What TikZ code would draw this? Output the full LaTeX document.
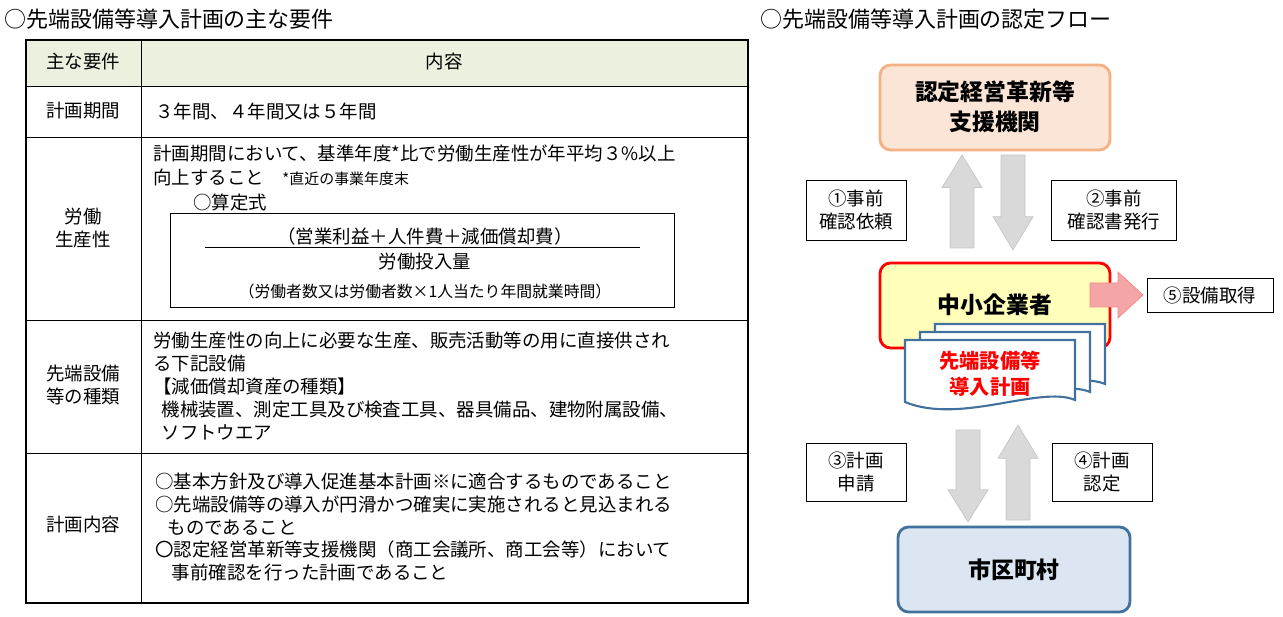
\documentclass[tikz,border=0pt]{standalone}
\usepackage{fontspec}
\setmainfont{Noto Sans CJK JP}
\usetikzlibrary{positioning}
\definecolor{hdgreen}{HTML}{EBF1DE}
\definecolor{orfill}{HTML}{FBE5D6}
\definecolor{ordraw}{HTML}{F4B183}
\definecolor{yefill}{HTML}{FFFFB9}
\definecolor{bufill}{HTML}{DCE6F2}
\definecolor{budraw}{HTML}{41719C}
\definecolor{pkfill}{HTML}{F4A6A6}
\tikzset{
  cell/.style={anchor=west, font=\fontsize{10.5pt}{13pt}\selectfont, align=left, inner sep=0pt},
  ccell/.style={font=\fontsize{10.5pt}{13pt}\selectfont, align=center, inner sep=0pt},
  flowbox/.style={rounded corners=6pt, line width=1.6pt, font=\bfseries\fontsize{13pt}{17pt}\selectfont, align=center},
  labelbox/.style={draw, font=\fontsize{10.5pt}{13pt}\selectfont, align=center, inner sep=0pt},
  grayarrow/.style={fill=gray!30, draw=gray!45},
}
\begin{document}
\begin{tikzpicture}[x=0.02cm, y=-0.02cm]
    \useasboundingbox (0,0) rectangle (1283,617);
    % titles
    \node[cell, font=\fontsize{12.5pt}{15pt}\selectfont] (t1) at (4,19) {○先端設備等導入計画の主な要件};
    \node[cell, font=\fontsize{12.5pt}{15pt}\selectfont] (t2) at (760,19) {○先端設備等導入計画の認定フロー};

    % table
    \fill[hdgreen] (26,40) rectangle (748,86);
    \draw[line width=1.2pt] (26,40) rectangle (748,603);
    \draw (141,40) -- (141,603);
    \foreach \yy in {86,137,320,453} \draw (26,\yy) -- (748,\yy);
    \node[ccell] (h1) at (83,62) {主な要件};
    \node[ccell] (h2) at (444,62) {内容};
    \node[ccell] (r1) at (83,111) {計画期間};
    \node[cell] (c1) at (155,111) {３年間、４年間又は５年間};
    \node[ccell] (r2) at (83,228) {労働\\生産性};
    \node[cell] (c2a) at (153,153) {計画期間において、基準年度*比で労働生産性が年平均３\%以上};
    \node[cell] (c2b) at (153,177) {向上すること\quad {\fontsize{8.5pt}{10pt}\selectfont *直近の事業年度末}};
    \node[cell] (c2c) at (193,202) {○算定式};
    \draw (170,213) rectangle (674,307);
    \node[ccell] (f1) at (425,236) {（営業利益＋人件費＋減価償却費）};
    \draw (205,247) -- (640,247);
    \node[ccell] (f2) at (425,262) {労働投入量};
    \node[ccell, font=\fontsize{9pt}{11pt}\selectfont] (f3) at (425,291) {（労働者数又は労働者数×1人当たり年間就業時間）};
    \node[ccell] (r3) at (83,385) {先端設備\\等の種類};
    \node[cell] (c3) at (153,386) {労働生産性の向上に必要な生産、販売活動等の用に直接供され\\る下記設備\\【減価償却資産の種類】\\\ \ 機械装置、測定工具及び検査工具、器具備品、建物附属設備、\\\ \ ソフトウエア};
    \node[ccell] (r4) at (83,525) {計画内容};
    \node[cell] (c4) at (155,527) {○基本方針及び導入促進基本計画※に適合するものであること\\○先端設備等の導入が円滑かつ確実に実施されると見込まれる\\\ \ \ ものであること\\〇認定経営革新等支援機関（商工会議所、商工会等）において\\\ \ \ \ 事前確認を行った計画であること};

    % flow boxes
    \draw[flowbox, fill=orfill, draw=ordraw] (880,65) rectangle (1110,150);
    \node[ccell, font=\bfseries\fontsize{13pt}{17pt}\selectfont] (shien) at (995,107) {認定経営革新等\\支援機関};
    \draw[flowbox, fill=yefill, draw=red] (880,263) rectangle (1110,348);
    \node[ccell, font=\bfseries\fontsize{13pt}{17pt}\selectfont] (chusho) at (995,305) {中小企業者};
    \draw[flowbox, fill=bufill, draw=budraw] (898,527) rectangle (1130,612);
    \node[ccell, font=\bfseries\fontsize{13pt}{17pt}\selectfont] (shiku) at (1014,570) {市区町村};

    % document stack
    \foreach \dx/\dy in {30/-16, 15/-8, 0/0}
      \draw[budraw, line width=1.2pt, fill=white] (905+\dx,340+\dy) -- (1075+\dx,340+\dy) -- (1075+\dx,400+\dy)
        .. controls (1040+\dx,385+\dy) and (960+\dx,425+\dy) .. (905+\dx,402+\dy) -- cycle;
    \node[ccell, text=red, font=\bfseries\fontsize{11.5pt}{15pt}\selectfont] (plan) at (990,374) {先端設備等\\導入計画};

    % gray arrows
    \foreach \cx/\ya/\yb in {962/248/155, 1018/520/425, 1013/155/250, 968/430/522}
    {
      \pgfmathsetmacro\ym{\ya+(\yb-\ya)*0.65}
      \draw[grayarrow] (\cx-12,\ya) -- (\cx-12,\ym) -- (\cx-20,\ym) -- (\cx,\yb)
        -- (\cx+20,\ym) -- (\cx+12,\ym) -- (\cx+12,\ya) -- cycle;
    }
    % pink arrow
    \draw[fill=pkfill, draw=pkfill!80!red] (1090,283) -- (1118,283) -- (1118,272) -- (1143,295) -- (1118,318)
      -- (1118,307) -- (1090,307) -- cycle;

    % label boxes
    \node[labelbox, minimum width=100*0.02cm, minimum height=60*0.02cm] (l1) at (856,210) {①事前\\確認依頼};
    \node[labelbox, minimum width=125*0.02cm, minimum height=60*0.02cm] (l2) at (1114,210) {②事前\\確認書発行};
    \node[labelbox, minimum width=126*0.02cm, minimum height=34*0.02cm] (l5) at (1210,295) {⑤設備取得};
    \node[labelbox, minimum width=100*0.02cm, minimum height=58*0.02cm] (l3) at (856,472) {③計画\\申請};
    \node[labelbox, minimum width=100*0.02cm, minimum height=58*0.02cm] (l4) at (1102,472) {④計画\\認定};
\end{tikzpicture}
\end{document}
